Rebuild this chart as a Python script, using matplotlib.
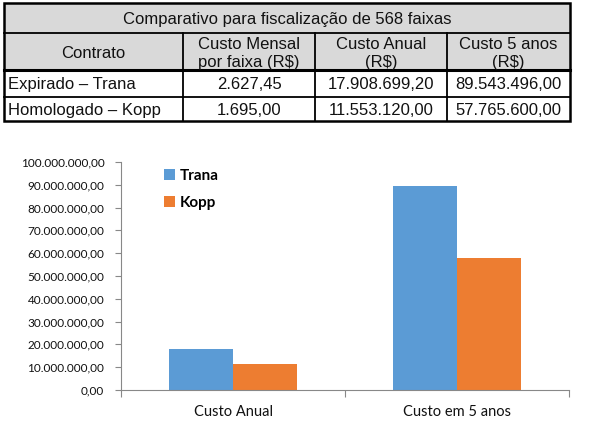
import matplotlib
matplotlib.use("Agg")
import matplotlib.pyplot as plt
from matplotlib.patches import Rectangle
from matplotlib.ticker import FuncFormatter, FixedLocator

# ---------------- data ----------------
table_title = "Comparativo para fiscalização de 568 faixas"
header = ["Contrato", "Custo Mensal\npor faixa (R$)", "Custo Anual\n(R$)", "Custo 5 anos\n(R$)"]
contracts = ["Expirado – Trana", "Homologado – Kopp"]
monthly_cost = [2627.45, 1695.00]
annual_cost = [17908699.20, 11553120.00]
five_year_cost = [89543496.00, 57765600.00]

series_names = ["Trana", "Kopp"]
categories = ["Custo Anual", "Custo em 5 anos"]
trana_values = [17908699.20, 89543496.00]
kopp_values = [11553120.00, 57765600.00]
series_colors = ["#5b9bd5", "#ed7d31"]

y_max = 100_000_000
y_step = 10_000_000


def br(v):
    s = f"{v:,.2f}"
    return s.replace(",", "X").replace(".", ",").replace("X", ".")


W, H = 606, 428
fig = plt.figure(figsize=(W / 100, H / 100), dpi=100)

# ---------------- table (pixel coordinates) ----------------
tax = fig.add_axes([0, 0, 1, 1])
tax.set_xlim(0, W)
tax.set_ylim(H, 0)
tax.axis("off")

col_x = [4, 183, 315, 447, 570]
row_y = [3, 33, 70, 97, 121]
gray = "#d9d9d9"
tfont = "Liberation Sans"
tsize = 12

tax.add_patch(Rectangle((col_x[0], row_y[0]), col_x[-1] - col_x[0], row_y[2] - row_y[0],
                        facecolor=gray, edgecolor="none"))
# lines
lw_in = 1.3
for y in [row_y[1], row_y[3]]:
    tax.plot([col_x[0], col_x[-1]], [y, y], color="black", lw=lw_in)
tax.plot([col_x[0], col_x[-1]], [row_y[2], row_y[2]], color="black", lw=2.2)
for x in col_x[1:-1]:
    tax.plot([x, x], [row_y[1], row_y[-1]], color="black", lw=lw_in)
tax.add_patch(Rectangle((col_x[0], row_y[0]), col_x[-1] - col_x[0], row_y[-1] - row_y[0],
                        facecolor="none", edgecolor="black", lw=1.8))

tax.text((col_x[0] + col_x[-1]) / 2, (row_y[0] + row_y[1]) / 2 + 1, table_title,
         ha="center", va="center", fontsize=tsize, family=tfont, color="#111")
for i, h in enumerate(header):
    tax.text((col_x[i] + col_x[i + 1]) / 2, (row_y[1] + row_y[2]) / 2 + 1.5, h,
             ha="center", va="center", fontsize=tsize, family=tfont, color="#111",
             linespacing=1.25)
for r in range(2):
    yc = (row_y[2 + r] + row_y[3 + r]) / 2 + 1
    tax.text(col_x[0] + 4, yc, contracts[r], ha="left", va="center",
             fontsize=tsize, family=tfont, color="#111")
    vals = [monthly_cost[r], annual_cost[r], five_year_cost[r]]
    for c, v in enumerate(vals):
        tax.text((col_x[c + 1] + col_x[c + 2]) / 2, yc, br(v), ha="center", va="center",
                 fontsize=tsize, family=tfont, color="#111")

# ---------------- bar chart ----------------
left, right, top, bottom = 121, 569, 162, 390
ax = fig.add_axes([left / W, (H - bottom) / H, (right - left) / W, (bottom - top) / H])
ax.set_zorder(2)
ax.patch.set_alpha(0)

x = list(range(len(categories)))
bw = 2 / 7
ax.bar([i - bw / 2 for i in x], trana_values, width=bw, color=series_colors[0],
       label=series_names[0], linewidth=0)
ax.bar([i + bw / 2 for i in x], kopp_values, width=bw, color=series_colors[1],
       label=series_names[1], linewidth=0)

ax.set_xlim(-0.5, len(categories) - 0.5)
ax.set_ylim(0, y_max)
ax.yaxis.set_major_locator(FixedLocator(list(range(0, y_max + 1, y_step))))
ax.yaxis.set_major_formatter(FuncFormatter(lambda v, p: br(v)))

ax.set_xticks(x)
ax.set_xticklabels(categories)
ax.set_xticks([i - 0.5 for i in range(len(categories) + 1)], minor=True)
ax.tick_params(axis="x", which="major", length=0, pad=11, labelsize=10.5, labelcolor="#111")
ax.tick_params(axis="x", which="minor", length=5, color="#888888", width=0.8)
ax.tick_params(axis="y", which="major", length=4, color="#888888", width=0.8,
               labelsize=8.5, labelcolor="#111", pad=8)
for lab in ax.get_xticklabels() + ax.get_yticklabels():
    lab.set_family("Lato")

for s in ["top", "right"]:
    ax.spines[s].set_visible(False)
for s in ["left", "bottom"]:
    ax.spines[s].set_color("#888888")
    ax.spines[s].set_linewidth(0.8)

leg = ax.legend(loc="upper left", bbox_to_anchor=(0.065, 1.03), frameon=False,
                prop={"family": "Lato", "weight": "bold", "size": 11},
                handlelength=0.75, handleheight=0.75, handletextpad=0.3, labelspacing=0.85)

fig.savefig("out.png", dpi=100, facecolor="white")
